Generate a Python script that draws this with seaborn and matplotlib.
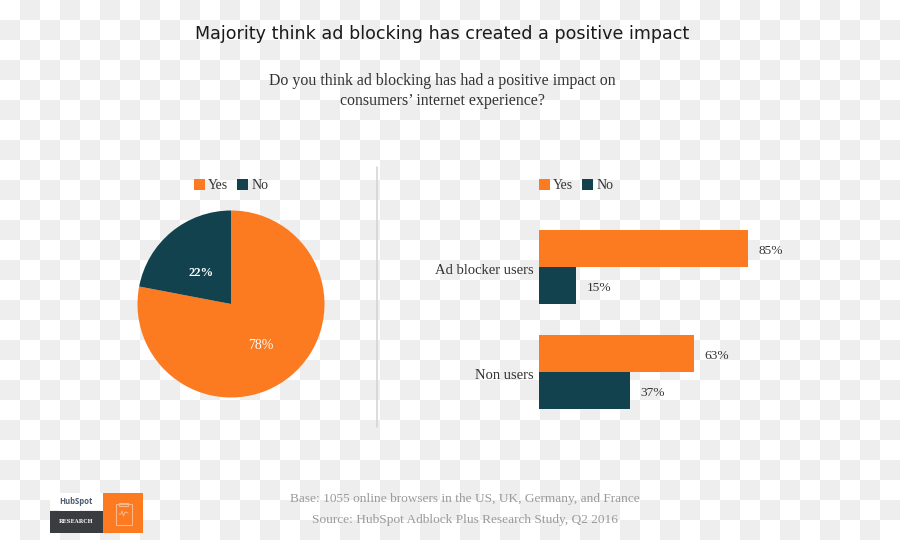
import numpy as np
import pandas as pd
import matplotlib
matplotlib.use('Agg')
import matplotlib.pyplot as plt
from matplotlib.patches import Rectangle
from matplotlib.transforms import ScaledTranslation
import seaborn as sns

# chart data
answers = ['Yes', 'No']
overall_share = [78, 22]
groups = ['Ad blocker users', 'Non users']
yes_share = [85, 63]
no_share = [15, 37]

title = 'Majority think ad blocking has created a positive impact'
question = 'Do you think ad blocking has had a positive impact on\nconsumers\u2019 internet experience?'
base_note = 'Base: 1055 online browsers in the US, UK, Germany, and France'
source_note = 'Source: HubSpot Adblock Plus Research Study, Q2 2016'

ORANGE = '#fc7a20'
TEAL = '#11424d'
TEXT = '#333333'
W, H = 900, 540

sns.set_theme(style='white')
plt.rcParams['font.family'] = ['Liberation Serif', 'DejaVu Serif']


def px_axes(fig, left, top, right, bottom):
    # axes placed with pixel coordinates measured from the top left
    return fig.add_axes([left / W, 1 - bottom / H, (right - left) / W, (bottom - top) / H])


def add_legend(ax, handles, x, y):
    leg = ax.legend(handles, answers, loc='lower left', bbox_to_anchor=(x / W, 1 - y / H),
                    bbox_transform=ax.figure.transFigure, ncol=2, frameon=False,
                    fontsize=10, borderpad=0, borderaxespad=0, handlelength=0.82,
                    handleheight=0.85, handletextpad=0.2, columnspacing=0.62,
                    labelcolor=TEXT)
    return leg


fig = plt.figure(figsize=(W / 100, H / 100), dpi=100)

# page layer: checker background, texts, divider and logo, in pixel coordinates
page = px_axes(fig, 0, 0, W, H)
checker = (np.indices((27, 45)).sum(axis=0) % 2).astype(float)
page.imshow(checker, extent=(0, 900, 540, 0), cmap=matplotlib.colors.ListedColormap(['#ffffff', '#eeeeee']),
            interpolation='nearest', aspect='auto', zorder=0)
page.set_xlim(0, W)
page.set_ylim(H, 0)
page.axis('off')

page.text(442.5, 34, title, ha='center', va='center', fontsize=12.6, color='#1a1a1a',
          family='DejaVu Sans')
page.text(442, 91, question, ha='center', va='center', fontsize=11.4, color=TEXT, linespacing=1.28)
page.text(464.5, 499, base_note, ha='center', va='center', fontsize=9.6, color='#9a9a9a')
page.text(464.5, 519.5, source_note, ha='center', va='center', fontsize=9.6, color='#9a9a9a')
page.plot([377, 377], [167, 427], color='#d2d2d2', lw=1.1)

# logo block
page.add_patch(Rectangle((50, 493), 53, 17, color='white', lw=0))
page.add_patch(Rectangle((50, 510.5), 53, 22.5, color='#3a3d3f', lw=0))
page.add_patch(Rectangle((103, 493), 40, 40, color=ORANGE, lw=0))
page.text(76, 502, 'HubSpot', ha='center', va='center', fontsize=5.6, color='#4c5a6b',
          family='Open Sans', weight='bold')
page.text(76.5, 521.5, 'RESEARCH', ha='center', va='center', fontsize=3.9, color='#f2f2f2',
          family='DejaVu Serif', weight='bold')
page.add_patch(Rectangle((115.5, 504), 16, 21, fill=False, ec='#fdb88a', lw=0.8))
page.add_patch(Rectangle((119, 502.5), 9, 3, fill=False, ec='#fdb88a', lw=0.8))
page.plot([119, 121, 122, 123.5, 125, 128], [514, 514, 511, 516, 512, 513], color='#fdb88a', lw=0.7)

# pie
ax_pie = px_axes(fig, 137.5, 210.5, 324.5, 397.5)
ax_pie.patch.set_alpha(0)
wedges, _, pcts = ax_pie.pie(overall_share, colors=[ORANGE, TEAL], startangle=90, counterclock=False,
                             radius=1, autopct='%d%%', wedgeprops={'linewidth': 0},
                             textprops={'color': 'white', 'fontsize': 10})
ax_pie.set_xlim(-1, 1)
ax_pie.set_ylim(-1, 1)
pcts[0].set_position((0.315, -0.44))
pcts[1].set_position((-0.32, 0.33))
pcts[1].set_fontweight('bold')
pcts[1].set_fontsize(9.2)
add_legend(ax_pie, wedges, 194, 192)

# bars
bars = pd.DataFrame({'group': groups * 2,
                     'answer': ['Yes'] * len(groups) + ['No'] * len(groups),
                     'share': yes_share + no_share})
ax_bar = px_axes(fig, 539, 214.5, 785, 424.5)
ax_bar.patch.set_alpha(0)
sns.barplot(data=bars, x='share', y='group', hue='answer', hue_order=answers, order=groups,
            palette=[ORANGE, TEAL], width=0.705, gap=0, saturation=1, orient='h', linewidth=0, ax=ax_bar)
ax_bar.set_xlim(0, 100)
ax_bar.set_ylim(1.5, -0.5)
ax_bar.set_xlabel('')
ax_bar.set_ylabel('')
ax_bar.set_xticks([])
ax_bar.tick_params(axis='y', length=0, pad=3.6, labelsize=10.5, labelcolor=TEXT)
down = ScaledTranslation(0, -2 / 100, fig.dpi_scale_trans)
for lab in ax_bar.get_yticklabels():
    lab.set_transform(lab.get_transform() + down)
sns.despine(ax=ax_bar, left=True, bottom=True)
for cont in ax_bar.containers:
    for lab in ax_bar.bar_label(cont, fmt='%g%%', padding=7.5, fontsize=9.6, color=TEXT):
        lab.xyann = (lab.xyann[0], lab.xyann[1] - 1.9)
handles, _ = ax_bar.get_legend_handles_labels()
add_legend(ax_bar, handles, 539, 192)

fig.savefig('out.png', dpi=100)
